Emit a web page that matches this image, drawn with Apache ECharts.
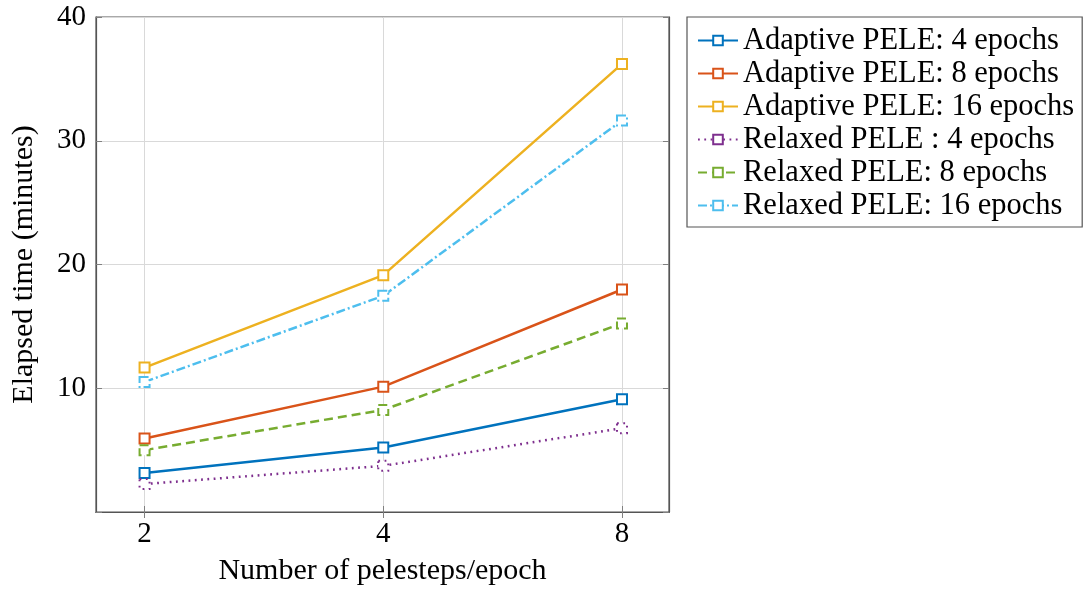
<!DOCTYPE html>
<html>
<head>
<meta charset="utf-8">
<script src="https://cdn.jsdelivr.net/npm/echarts@6/dist/echarts.min.js"></script>
<style>html,body{margin:0;padding:0;background:#fff;}#c{width:1083px;height:590px;}</style>
</head>
<body>
<div id="c"></div>
<script>
const xValues = [2, 4, 8];
const xTickLabels = ['2', '4', '8'];
const yTickLabels = ['10', '20', '30', '40'];
const seriesNames = [
  'Adaptive PELE: 4 epochs',
  'Adaptive PELE: 8 epochs',
  'Adaptive PELE: 16 epochs',
  'Relaxed PELE : 4 epochs',
  'Relaxed PELE: 8 epochs',
  'Relaxed PELE: 16 epochs'
];
const adaptive4 = [3.15, 5.21, 9.11];
const adaptive8 = [5.94, 10.13, 17.98];
const adaptive16 = [11.67, 19.14, 36.21];
const relaxed4 = [2.26, 3.73, 6.77];
const relaxed8 = [5.0, 8.25, 15.24];
const relaxed16 = [10.51, 17.47, 31.64];

const values = [adaptive4, adaptive8, adaptive16, relaxed4, relaxed8, relaxed16];
const colors = ['#0072BD', '#D95319', '#EDB120', '#7E2F8E', '#77AC30', '#4DBEEE'];
const dashes = ['solid', 'solid', 'solid', [1.8, 4.5], [9, 5], [9, 3, 2, 3]];
const FONT = '"Liberation Serif", "Times New Roman", serif';
const FRAME = '#555';

const xMin = 1.737, xMax = 9.17;

const series = values.map((vals, i) => ({
  name: seriesNames[i],
  type: 'line',
  data: xValues.map((x, j) => [x, vals[j]]),
  symbol: 'emptyRect',
  symbolSize: 10,
  color: colors[i],
  lineStyle: { color: colors[i], width: 2.5, type: dashes[i] },
  itemStyle: { color: colors[i], borderColor: colors[i], borderWidth: 2.3, borderType: dashes[i] },
  emphasis: { disabled: true },
  z: 3
}));

const chart = echarts.init(document.getElementById('c'), null, { renderer: 'canvas' });
chart.setOption({
  animation: false,
  backgroundColor: '#fff',
  grid: { left: 96, right: 414, top: 17, bottom: 78, containLabel: false, outerBoundsMode: 'none',
          show: true, borderColor: FRAME, borderWidth: 1.2 },
  legend: {
    orient: 'vertical',
    left: 687, top: 17,
    padding: [7, 8, 5, 10],
    itemWidth: 40, itemHeight: 12, itemGap: 0,
    borderColor: FRAME, borderWidth: 1.2,
    backgroundColor: '#fff',
    textStyle: { fontFamily: FONT, fontSize: 30.5, color: '#000', lineHeight: 33 },
    data: seriesNames
  },
  xAxis: [{
    type: 'log', logBase: 2, min: xMin, max: xMax,
    name: 'Number of pelesteps/epoch', nameLocation: 'middle', nameGap: 44,
    nameTextStyle: { fontFamily: FONT, fontSize: 30, color: '#000' },
    axisLine: { show: true, lineStyle: { color: FRAME, width: 1.2 } },
    axisTick: { show: true, inside: true, length: 6, lineStyle: { color: '#808080' }, customValues: xValues },
    axisLabel: { fontFamily: FONT, fontSize: 29, color: '#000', margin: 8, customValues: xValues,
      formatter: v => { const k = xValues.indexOf(Math.round(v * 1000) / 1000); return k >= 0 ? xTickLabels[k] : ''; } },
    splitLine: { show: true, lineStyle: { color: '#d9d9d9', width: 1 } },
    minorTick: { show: false }
  }, {
    type: 'log', logBase: 2, min: xMin, max: xMax, position: 'top',
    axisLine: { show: true, lineStyle: { color: FRAME, width: 1.2 } },
    axisTick: { show: true, inside: true, length: 6, lineStyle: { color: '#808080' }, customValues: xValues },
    axisLabel: { show: false, customValues: xValues }, splitLine: { show: false }
  }],
  yAxis: [{
    type: 'value', min: 0, max: 40, interval: 10,
    name: 'Elapsed time (minutes)', nameLocation: 'middle', nameGap: 57,
    nameTextStyle: { fontFamily: FONT, fontSize: 30, color: '#000' },
    axisLine: { show: true, lineStyle: { color: FRAME, width: 1.2 } },
    axisTick: { show: true, inside: true, length: 6, lineStyle: { color: '#808080' } },
    axisLabel: { fontFamily: FONT, fontSize: 29, color: '#000', margin: 10,
      formatter: v => { const k = yTickLabels.indexOf(String(v)); return k >= 0 ? yTickLabels[k] : ''; } },
    splitLine: { show: true, lineStyle: { color: '#d9d9d9', width: 1 } }
  }, {
    type: 'value', min: 0, max: 40, interval: 10, position: 'right',
    axisLine: { show: true, lineStyle: { color: FRAME, width: 1.2 } },
    axisTick: { show: true, inside: true, length: 6, lineStyle: { color: '#808080' } },
    axisLabel: { show: false }, splitLine: { show: false }
  }],
  series: series
});
</script>
</body>
</html>
